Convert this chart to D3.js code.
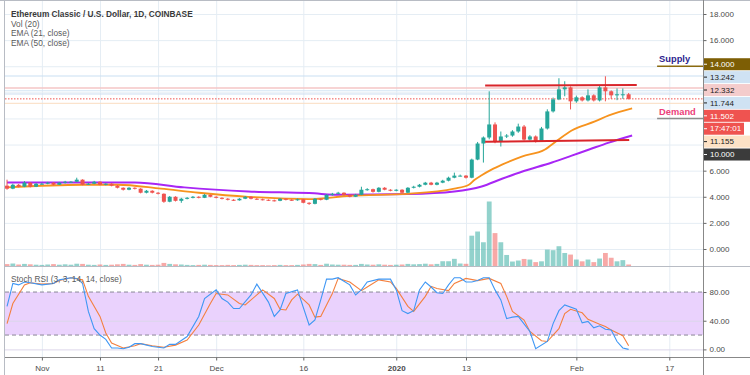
<!DOCTYPE html>
<html>
<head>
<meta charset="utf-8">
<script src="https://cdn.jsdelivr.net/npm/d3@7"></script>
<style>
body { margin: 0; background: #fff; }
svg { display: block; font-family: "Liberation Sans", Arial, sans-serif; }
</style>
</head>
<body>
<script>
// daily candles, first one is 26 Oct 2019
const start_day = Date.UTC(2019, 9, 26);

const opens = [4.85,4.62,4.92,4.77,5.08,4.77,5.00,5.00,5.08,4.92,
  5.08,5.15,5.15,5.31,4.92,5.00,5.15,4.92,5.00,4.85,
  4.69,4.54,4.69,4.62,4.31,4.46,4.31,4.23,3.62,4.00,
  3.69,3.85,3.92,4.00,3.92,4.15,4.00,3.92,3.85,3.77,
  3.73,3.85,4.00,3.85,3.81,3.77,3.73,3.69,3.85,3.77,
  3.73,3.81,3.54,3.46,3.85,3.77,4.15,4.23,4.31,4.15,
  4.00,4.15,4.54,4.58,4.38,4.69,4.54,4.46,4.54,4.31,
  4.69,4.77,4.92,5.08,4.92,5.08,5.23,5.46,5.62,5.62,
  5.46,6.85,8.08,8.54,9.54,8.23,8.62,8.69,9.00,9.38,
  8.38,8.62,8.23,9.23,10.54,11.46,12.23,12.38,11.31,11.62,
  11.38,11.77,11.38,12.38,12.08,11.77,11.85,11.85];
const closes = [4.62,4.92,4.77,5.08,4.77,5.00,5.00,5.08,4.92,5.08,
  5.15,5.15,5.31,4.92,5.00,5.15,4.92,5.00,4.85,4.69,
  4.54,4.69,4.62,4.31,4.46,4.31,4.23,3.62,4.00,3.69,
  3.85,3.92,4.00,3.92,4.15,4.00,3.92,3.85,3.77,3.73,
  3.85,4.00,3.85,3.81,3.77,3.73,3.69,3.85,3.77,3.73,
  3.81,3.54,3.46,3.85,3.77,4.15,4.23,4.31,4.15,4.00,
  4.15,4.54,4.58,4.38,4.69,4.54,4.46,4.54,4.31,4.69,
  4.77,4.92,5.08,4.92,5.08,5.23,5.46,5.62,5.62,5.46,
  6.85,8.08,8.54,9.54,8.23,8.62,8.69,9.00,9.38,8.38,
  8.62,8.23,9.23,10.54,11.46,12.23,12.38,11.31,11.62,11.38,
  11.77,11.38,12.38,12.08,11.77,11.85,11.85,11.50];
const highs = [5.31,5.00,4.98,5.20,5.12,5.06,5.08,5.14,5.12,5.14,
  5.22,5.20,5.46,5.34,5.06,5.22,5.18,5.04,5.04,4.90,
  4.72,4.74,4.72,4.66,4.52,4.50,4.36,4.26,4.06,4.04,
  3.92,3.98,4.06,4.04,4.22,4.18,4.04,3.96,3.90,3.82,
  3.90,4.06,4.04,3.90,3.86,3.80,3.78,3.90,3.88,3.82,
  3.86,3.84,3.58,3.90,3.88,4.20,4.30,4.38,4.34,4.18,
  4.22,4.77,4.66,4.62,4.74,4.74,4.58,4.58,4.58,4.74,
  4.84,4.98,5.14,5.14,5.14,5.30,5.54,5.85,5.70,5.66,
  6.92,8.20,8.62,12.08,9.70,9.00,8.80,9.10,9.60,9.50,
  8.72,8.70,9.35,10.70,11.60,13.08,12.85,12.45,11.75,11.70,
  12.23,11.85,12.50,13.23,12.15,12.30,12.30,11.95];
const lows = [4.54,4.58,4.72,4.74,4.72,4.74,4.94,4.96,4.88,4.90,
  5.02,5.08,5.12,4.88,4.90,4.96,4.88,4.88,4.80,4.64,
  4.48,4.50,4.56,4.26,4.26,4.26,4.18,3.54,3.58,3.64,
  3.54,3.80,3.88,3.88,3.90,3.96,3.88,3.80,3.72,3.68,
  3.70,3.82,3.80,3.76,3.72,3.68,3.64,3.66,3.72,3.68,
  3.70,3.50,3.38,3.42,3.72,3.74,4.10,4.18,4.10,3.96,
  3.98,4.12,4.46,4.32,4.34,4.50,4.42,4.42,4.26,4.28,
  4.64,4.72,4.88,4.88,4.88,5.04,5.18,5.42,5.56,5.40,
  5.42,6.80,6.62,8.40,8.10,7.85,8.50,8.60,8.90,8.30,
  8.30,8.15,8.20,9.15,10.45,11.40,11.70,10.69,11.20,11.30,
  11.30,11.30,11.30,11.31,11.50,11.40,11.50,11.45];
// volume, millions
const volumes = [1.2,1.5,1.0,1.3,1.1,0.9,0.8,1.0,1.2,0.9,
  1.1,0.9,1.4,1.3,0.9,0.8,1.0,0.8,0.9,1.1,
  1.3,0.9,0.8,1.2,0.9,0.8,0.9,1.8,1.3,1.1,
  1.0,0.8,0.7,0.8,0.9,0.8,0.7,0.7,0.8,0.7,
  0.8,0.9,0.8,0.7,0.7,0.6,0.7,0.8,0.7,0.7,
  0.8,1.0,1.3,1.2,0.8,1.4,1.0,0.9,0.9,0.8,
  0.8,1.3,1.0,0.9,1.1,0.9,0.8,0.9,1.0,1.3,
  1.1,1.2,1.4,1.1,1.3,2.65,2.65,3.85,1.5,1.35,
  15.5,17.6,12.2,32.7,16.8,12.2,5.8,2.5,3.0,3.8,
  3.5,2.2,2.6,8.5,8.2,10.2,6.8,6.0,3.5,2.6,
  3.5,2.2,4.0,6.8,4.4,2.6,3.2,1.0];

// [day, value]
const ema21 = [[0,4.72],[13,4.92],[19,4.92],[26.5,4.62],[33,4.31],[41.5,4.00],[52,3.82],
  [59,4.08],[69,4.23],[77,4.62],[79.5,4.92],[80.5,5.30],[81.7,5.65],[83.4,6.08],
  [85.2,6.46],[88.6,7.08],[92.6,7.62],[94.7,8.31],[97.2,9.08],[101.2,9.77],
  [103.6,10.23],[107.6,10.77]];
const ema50 = [[0,5.10],[22,5.10],[30.5,4.72],[41.5,4.41],[52,4.28],[57.6,4.15],
  [69,4.21],[77,4.41],[81.7,4.79],[85.2,5.38],[88.6,5.92],[93.8,6.62],[97.2,7.15],
  [100.2,7.62],[103.6,8.15],[107.6,8.69]];

const stoch_k = [[0,60],[1,92],[2,90],[3,94],[4,93],[6,90],[8,92],[9,97],[11,100],[12,99],
  [13,92],[14,53],[15,29],[16,20],[17,14],[18,2],[19,2],[20,1],[21,3],[22,8],[23,8],
  [25,4],[27,2],[28,7],[29,7],[31,18],[33,46],[34,71],[36,83],[37,71],[38,66],[39,57],
  [40,57],[42,76],[43,91],[45,66],[46,46],[47,55],[48,78],[50,83],[52,34],[53,41],
  [54,69],[55,98],[56,98],[57,100],[59,90],[60,76],[61,83],[62,94],[64,98],[66,98],
  [67,83],[68,54],[69,50],[70,54],[71,83],[72,94],[73,87],[74,79],[75,78],[76,90],
  [77,100],[78,100],[79,94],[80,94],[81,96],[82,100],[83,100],[84,83],[85,69],[86,43],
  [87,45],[88,46],[90,25],[91,1],[93,11],[94,36],[95,54],[96,62],[98,56],[99,37],
  [100,39],[101,30],[102,33],[103,28],[104,27],[105,11],[106,2],[107,0]];
const stoch_d = [[0,36],[1,64],[3,90],[4,93],[6,91],[8,92],[9,96],[11,100],[13,97],
  [14,74],[16,46],[17,23],[18,9],[20,2],[22,5],[23,8],[25,5],[27,3],[29,6],[31,13],
  [33,34],[35,64],[36,78],[38,76],[40,64],[41,62],[43,76],[44,83],[46,71],[47,56],
  [48,55],[49,69],[50,77],[52,62],[53,45],[54,46],[56,78],[57,99],[59,94],[61,82],
  [62,87],[64,97],[66,94],[67,85],[69,60],[70,53],[72,74],[73,88],[74,85],[76,82],
  [77,92],[79,99],[81,96],[83,99],[85,92],[86,74],[87,53],[89,41],[90,25],[92,12],
  [93,11],[95,29],[96,50],[97,56],[99,51],[100,42],[102,35],[103,32],[104,27],
  [106,19],[107,5]];

// drawings
const resistance = [[82.3,12.52],[108.4,12.56]];
const support = [[82.3,8.22],[107.1,8.35]];
const supply_level = 14.0;
const demand_level = 10.0;
const price_lines = [13.25, 12.33, 12.12, 11.87, 11.50, 11.16];

const price_ticks = [0, 2, 4, 6, 8, 10, 12, 14, 16, 18];
const price_tick_labels = [0, 2, 4, 6, 16, 18];   // the rest sit under the value labels
const rsi_ticks = [0, 40, 80];
const rsi_band = [20, 80];
const date_ticks = [[2019,10,1],[2019,10,11],[2019,10,21],[2019,11,1],[2019,11,16],
  [2020,0,1],[2020,0,13],[2020,1,1],[2020,1,17]];
const date_labels = ["Nov","11","21","Dec","16","2020","13","Feb","17"];
const axis_label_values = [14.000, 13.242, 12.332, 11.744, 11.502, 11.155, 10.000];
const countdown = "17:47:01";
const legend_lines = ["Ethereum Classic / U.S. Dollar, 1D, COINBASE", "Vol (20)", "EMA (21, close)", "EMA (50, close)"];

const W = 750, H = 375;
const chart_left = 5, chart_right = 703;
const main_bottom = 266.5, rsi_bottom = 357;
const grid_col = "#e5edf4";
const up_col = "#26a69a", down_col = "#ef5350";

const day = i => new Date(start_day + i * 864e5);

const svg = d3.select("body").append("svg")
    .attr("width", W).attr("height", H);

const x = d3.scaleTime().domain([day(-0.35), day(119.8)]).range([chart_left, chart_right]);
const y = d3.scaleLinear().domain([0, 18]).range([249, 14]);
const y_vol = d3.scaleLinear().domain([0, 32.7]).range([main_bottom, 201.5]);
const y_rsi = d3.scaleLinear().domain([0, 100]).range([349.4, 277.7]);

const tick_dates = date_ticks.map(d => new Date(Date.UTC(d[0], d[1], d[2])));

svg.append("clipPath").attr("id", "clip_main")
  .append("rect").attr("x", chart_left).attr("y", 0)
  .attr("width", chart_right - chart_left).attr("height", main_bottom);
svg.append("clipPath").attr("id", "clip_rsi")
  .append("rect").attr("x", chart_left).attr("y", main_bottom)
  .attr("width", chart_right - chart_left).attr("height", rsi_bottom - main_bottom);

// grid
const grid = svg.append("g");
grid.append("g")
    .attr("transform", `translate(0,${rsi_bottom})`)
    .call(d3.axisBottom(x).tickValues(tick_dates).tickSize(-rsi_bottom).tickFormat(""))
    .call(g => g.select(".domain").remove())
    .call(g => g.selectAll("line").attr("stroke", grid_col));
grid.append("g")
    .attr("transform", `translate(${chart_right},0)`)
    .call(d3.axisLeft(y).tickValues(price_ticks).tickSize(chart_right - chart_left).tickFormat(""))
    .call(g => g.select(".domain").remove())
    .call(g => g.selectAll("line").attr("stroke", grid_col));

// rsi band
const rsi_g = svg.append("g").attr("clip-path", "url(#clip_rsi)");
rsi_g.append("rect")
    .attr("x", chart_left).attr("width", chart_right - chart_left)
    .attr("y", y_rsi(rsi_band[1])).attr("height", y_rsi(rsi_band[0]) - y_rsi(rsi_band[1]))
    .attr("fill", "#ead2fd");
rsi_g.append("g")
    .attr("transform", `translate(${chart_right},0)`)
    .call(d3.axisLeft(y_rsi).tickValues(rsi_ticks.filter(v => v != 80)).tickSize(chart_right - chart_left).tickFormat(""))
    .call(g => g.select(".domain").remove())
    .call(g => g.selectAll("line").attr("stroke", "#dcd6ea"));
rsi_g.selectAll(".band_edge")
    .data(rsi_band)
    .enter().append("line")
    .attr("x1", chart_left).attr("x2", chart_right)
    .attr("y1", d => y_rsi(d)).attr("y2", d => y_rsi(d))
    .attr("stroke", "#8a8896").attr("stroke-dasharray", "4,3");

const rsi_line = d3.line().x(d => x(day(d[0]))).y(d => y_rsi(d[1]));
rsi_g.append("path").datum(stoch_d)
    .attr("d", rsi_line).attr("fill", "none").attr("stroke", "#f4803f").attr("stroke-width", 1.1);
rsi_g.append("path").datum(stoch_k)
    .attr("d", rsi_line).attr("fill", "none").attr("stroke", "#3f97f4").attr("stroke-width", 1.1);

// main pane
const main_g = svg.append("g").attr("clip-path", "url(#clip_main)");

const price_line_cols = ["#c9dff2", "#f4c6c6", "#d3e4f3", "#cfe1f2", "#ef5350", "#fbdcc0"];
main_g.selectAll(".pline")
    .data(price_lines)
    .enter().append("line")
    .attr("x1", chart_left).attr("x2", chart_right)
    .attr("y1", d => y(d)).attr("y2", d => y(d))
    .attr("stroke", (d, i) => price_line_cols[i])
    .attr("stroke-width", (d, i) => i == 1 ? 1.5 : 1)
    .attr("stroke-dasharray", (d, i) => i == 4 ? "1.5,1.5" : null);

const candles = closes.map((c, i) => ({i: i, o: opens[i], h: highs[i], l: lows[i], c: c, v: volumes[i]}));
const bw = 4.0;

main_g.selectAll(".vol")
    .data(candles)
    .enter().append("rect")
    .attr("x", d => x(day(d.i)) - 2.4)
    .attr("width", 4.8)
    .attr("y", d => y_vol(d.v))
    .attr("height", d => main_bottom - y_vol(d.v))
    .attr("fill", d => d.c >= d.o ? up_col : down_col)
    .attr("fill-opacity", 0.5);

const ema_line = d3.line().curve(d3.curveMonotoneX).x(d => x(day(d[0]))).y(d => y(d[1]));
main_g.append("path").datum(ema50)
    .attr("d", ema_line).attr("fill", "none").attr("stroke", "#a826f5").attr("stroke-width", 2);
main_g.append("path").datum(ema21)
    .attr("d", ema_line).attr("fill", "none").attr("stroke", "#f7931e").attr("stroke-width", 1.8);

const cg = main_g.selectAll(".candle")
    .data(candles)
    .enter().append("g");
cg.append("line")
    .attr("x1", d => x(day(d.i))).attr("x2", d => x(day(d.i)))
    .attr("y1", d => y(d.h)).attr("y2", d => y(d.l))
    .attr("stroke", d => d.c >= d.o ? up_col : down_col);
cg.append("rect")
    .attr("x", d => x(day(d.i)) - bw / 2)
    .attr("width", bw)
    .attr("y", d => y(Math.max(d.o, d.c)))
    .attr("height", d => Math.max(1, Math.abs(y(d.o) - y(d.c))))
    .attr("fill", d => d.c >= d.o ? up_col : down_col);

// trend lines
[resistance, support].forEach(function(seg) {
    main_g.append("line")
        .attr("x1", x(day(seg[0][0]))).attr("y1", y(seg[0][1]))
        .attr("x2", x(day(seg[1][0]))).attr("y2", y(seg[1][1]))
        .attr("stroke", "#d9252a").attr("stroke-width", 2);
});

// supply / demand rays
const ray_start = x(day(111.9));
main_g.append("line")
    .attr("x1", ray_start).attr("x2", chart_right)
    .attr("y1", y(supply_level)).attr("y2", y(supply_level))
    .attr("stroke", "#8a6a10").attr("stroke-width", 1.5);
main_g.append("line")
    .attr("x1", ray_start).attr("x2", chart_right)
    .attr("y1", y(demand_level)).attr("y2", y(demand_level))
    .attr("stroke", "#8d8d8d").attr("stroke-width", 1.5);
svg.append("text")
    .attr("x", ray_start + 2).attr("y", y(supply_level) - 4)
    .attr("font-size", 9.3).attr("font-weight", "bold").attr("fill", "#2c1e8e")
    .text("Supply");
svg.append("text")
    .attr("x", ray_start + 2).attr("y", y(demand_level) - 3)
    .attr("font-size", 9.3).attr("font-weight", "bold").attr("fill", "#ec407a")
    .text("Demand");

// legend
svg.selectAll(".legend")
    .data(legend_lines)
    .enter().append("text")
    .attr("x", 11)
    .attr("y", (d, i) => 17 + i * 9.7)
    .attr("font-size", 8.3)
    .attr("font-weight", (d, i) => i == 0 ? "bold" : null)
    .attr("fill", (d, i) => i == 0 ? "#3a3a3a" : "#5a5a5a")
    .text(d => d);
svg.append("text")
    .attr("x", 11).attr("y", 282)
    .attr("font-size", 8.3).attr("fill", "#5a5a5a")
    .text("Stoch RSI (3, 3, 14, 14, close)");

// frame
const frame = svg.append("g").attr("stroke", "#b8bcc4");
frame.append("line").attr("x1", 0).attr("x2", W).attr("y1", 0.5).attr("y2", 0.5);
frame.append("line").attr("x1", chart_left - 0.5).attr("x2", chart_left - 0.5).attr("y1", 0).attr("y2", H);
frame.append("line").attr("x1", chart_left).attr("x2", W).attr("y1", main_bottom).attr("y2", main_bottom);
frame.append("line").attr("x1", chart_left).attr("x2", W).attr("y1", rsi_bottom + 0.5).attr("y2", rsi_bottom + 0.5).attr("stroke", "#888");
frame.append("line").attr("x1", chart_right + 0.5).attr("x2", chart_right + 0.5).attr("y1", 0).attr("y2", H).attr("stroke", "#888");

// price axis
const price_axis = svg.append("g")
    .attr("transform", `translate(${chart_right + 0.5},0)`)
    .call(d3.axisRight(y).tickValues(price_tick_labels).tickSize(3).tickPadding(3).tickFormat(d3.format(".3f")))
    .call(g => g.select(".domain").remove());
price_axis.selectAll("text").attr("font-size", 8).attr("fill", "#4a4a4a").attr("font-family", null);
price_axis.selectAll("line").attr("stroke", "#666");

const rsi_axis = svg.append("g")
    .attr("transform", `translate(${chart_right + 0.5},0)`)
    .call(d3.axisRight(y_rsi).tickValues(rsi_ticks).tickSize(3).tickPadding(3).tickFormat(d3.format(".2f")))
    .call(g => g.select(".domain").remove());
rsi_axis.selectAll("text").attr("font-size", 8).attr("fill", "#4a4a4a").attr("font-family", null);
rsi_axis.selectAll("line").attr("stroke", "#666");

// stacked value labels on the price axis
const label_styles = [
    {bg: "#7d5e05", fg: "#fff"},
    {bg: "#cfe2f3", fg: "#222"},
    {bg: "#f4cccc", fg: "#222"},
    {bg: "#cfe2f3", fg: "#222"},
    {bg: "#ef5350", fg: "#fff"},
    {bg: "#ef5350", fg: "#fff"},
    {bg: "#fde2c6", fg: "#222"},
    {bg: "#3b3b3b", fg: "#fff"}
];
const label_items = [];
axis_label_values.forEach(function(v, i) {
    label_items.push({v: v, text: d3.format(".3f")(v)});
    if (i == 4) label_items.push({v: v, text: countdown});
});
let prev_y = -Infinity;
label_items.forEach(function(d, i) {
    d.y = Math.max(y(d.v) - 2, prev_y + 12.9);
    prev_y = d.y;
    d.style = label_styles[i];
});
const lab = svg.selectAll(".plabel")
    .data(label_items)
    .enter().append("g")
    .attr("transform", d => `translate(${chart_right + 1},${d.y})`);
lab.append("rect")
    .attr("x", 0).attr("y", -6).attr("width", d => d.text == countdown ? 40 : 46).attr("height", 12)
    .attr("fill", d => d.style.bg);
lab.append("line")
    .attr("x1", 0).attr("x2", 3).attr("stroke", d => d.style.fg);
lab.append("text")
    .attr("x", 6).attr("dy", "0.34em")
    .attr("font-size", 8).attr("fill", d => d.style.fg)
    .text(d => d.text);

// time axis
const time_axis = svg.append("g")
    .attr("transform", `translate(0,${rsi_bottom + 0.5})`)
    .call(d3.axisBottom(x).tickValues(tick_dates).tickSize(3).tickPadding(5).tickFormat((d, i) => date_labels[i]))
    .call(g => g.select(".domain").remove());
time_axis.selectAll("text").attr("font-size", 8).attr("fill", "#4a4a4a").attr("font-family", null)
    .attr("font-weight", (d, i) => date_labels[i] == "2020" ? "bold" : null);
time_axis.selectAll("line").attr("stroke", "#666");
</script>
</body>
</html>
